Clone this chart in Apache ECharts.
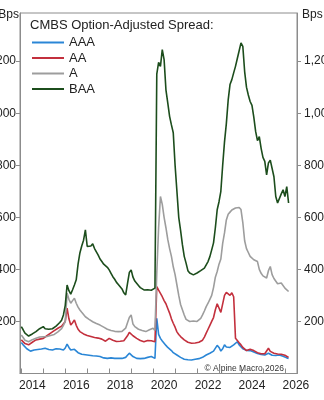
<!DOCTYPE html>
<html>
<head>
<meta charset="utf-8">
<script src="https://cdn.jsdelivr.net/npm/echarts@6/dist/echarts.min.js"></script>
<style>
html,body{margin:0;padding:0;background:#fff;}
#chart{width:324px;height:400px;}
</style>
</head>
<body>
<div id="chart"></div>
<script>
// ---- Data (monthly, Jan 2014 .. Mar 2026), bps ----
const startYear = 2014;
const endYear = 2026, endMonth = 3;
const seriesNames = ['AAA', 'AA', 'A', 'BAA'];
const titleText = 'CMBS Option-Adjusted Spread:';
const xTickLabels = ['2014', '2016', '2018', '2020', '2022', '2024', '2026'];
const yTickValues = [200, 400, 600, 800, 1000, 1200];

const baa = [
  180,168,155,148,144,146,152,158,161,165,172,178,
  180,172,168,170,166,172,178,182,188,196,205,225,
  262,340,318,305,322,340,360,420,463,490,512,552,
  488,495,490,498,480,475,455,440,430,420,415,408,
  398,385,372,362,350,342,335,325,310,302,345,388,
  398,370,355,348,338,330,325,321,318,322,318,320,
  324,328,1150,1195,1180,1244,1206,1090,1040,988,955,925,
  800,700,600,550,495,450,424,395,386,380,379,382,
  386,390,395,400,405,411,430,449,475,502,560,629,
  660,700,800,890,960,1050,1110,1129,1155,1180,1210,1240,
  1270,1257,1160,1100,1070,1045,1030,985,930,895,910,865,
  830,815,763,809,820,813,756,680,655,660,690,706,
  680,718,655
];
const singleA = [
  148,138,128,124,122,126,130,133,135,137,140,140,
  141,143,142,145,146,148,150,155,160,163,172,185,
  199,308,285,270,280,289,270,255,244,235,228,218,
  212,208,203,199,196,192,190,186,182,178,174,170,
  167,165,164,162,160,161,158,162,168,174,195,215,
  225,190,180,175,170,167,165,163,161,165,168,172,
  174,165,386,560,680,650,600,560,515,480,450,410,
  380,340,300,265,245,225,208,205,200,199,202,198,
  200,205,212,225,240,257,270,285,300,330,370,392,
  420,440,500,540,590,612,620,628,630,636,632,638,
  630,580,510,480,465,450,445,437,432,430,400,385,
  375,368,367,395,411,380,365,358,345,340,348,345,
  328,322,315
];
const aa = [
  129,122,115,112,110,114,120,125,129,130,132,134,
  135,140,145,150,155,161,165,170,174,178,182,186,
  200,251,210,186,195,206,185,170,161,156,152,148,
  146,144,142,140,138,137,136,135,132,128,124,130,
  135,132,128,125,123,122,124,122,126,130,145,158,
  161,145,138,135,130,127,125,122,124,127,129,126,
  129,122,334,320,315,295,280,268,250,232,210,193,
  178,160,150,142,135,129,125,120,118,116,118,117,
  118,120,122,128,140,155,170,185,200,215,245,268,
  262,235,240,300,312,315,300,310,295,135,129,118,
  110,100,95,88,90,93,90,88,84,80,78,76,
  75,76,80,97,85,80,78,76,75,73,74,71,
  70,66,62
];
const aaa = [
  119,110,103,95,90,86,84,90,93,92,93,94,
  95,97,94,92,90,90,93,95,97,94,91,90,
  98,113,100,90,92,93,88,80,76,74,71,72,
  72,70,69,68,68,67,66,65,63,60,57,58,
  58,60,59,58,57,58,59,58,60,62,70,78,
  76,65,60,58,58,57,58,58,60,62,64,65,
  65,58,212,150,135,125,120,108,100,95,88,80,
  75,71,66,62,58,55,54,53,52,52,54,55,
  56,57,58,62,66,71,74,78,82,86,92,108,
  100,86,95,110,102,100,100,104,110,116,122,110,
  103,95,90,89,88,88,86,83,80,77,75,73,
  72,71,74,78,74,70,67,69,70,71,69,66,
  65,60,58
];

// month positions as decimal years
const months = [];
for (let y = startYear; y <= endYear; y++) {
  for (let m = 1; m <= 12; m++) {
    if (y === endYear && m > endMonth) break;
    months.push(y + (m - 1) / 12);
  }
}
function pairs(vals) { return vals.map((v, i) => [months[i], v]); }

const yearTicks = [];
for (let y = startYear; y <= endYear; y++) yearTicks.push(y);
const labelPos = xTickLabels.map(s => +s + 0.5);

const colors = ['#2a86d6', '#c3303d', '#9d9d9d', '#1c4d1c'];
const valuesByName = { 'AAA': aaa, 'AA': aa, 'A': singleA, 'BAA': baa };

const font = 'Liberation Sans, Arial, sans-serif';
const axisColor = '#8c8c8c';
const textColor = '#222';
function fmt(v) { return String(v).replace(/\B(?=(\d{3})+(?!\d))/g, ','); }

function yAxisDef(pos) {
  const left = pos === 'left';
  return {
    type: 'value', position: pos, min: 0, max: 1385,
    axisLine: { show: true, lineStyle: { color: axisColor, width: 1 } },
    axisTick: { show: true, inside: false, length: 4, customValues: yTickValues, lineStyle: { color: axisColor } },
    axisLabel: { customValues: yTickValues, formatter: fmt, margin: left ? 4 : 7, fontSize: 12, color: textColor, fontFamily: font },
    splitLine: { show: false },
    name: 'Bps', nameLocation: 'end', nameGap: -2,
    nameTextStyle: {
      fontSize: 12, color: textColor, fontFamily: font,
      align: left ? 'right' : 'left', verticalAlign: 'middle',
      padding: left ? [0, 1, 0, 0] : [0, 0, 0, 5]
    }
  };
}

const chart = echarts.init(document.getElementById('chart'), null, { renderer: 'canvas' });
chart.setOption({
  animation: false,
  backgroundColor: '#fff',
  textStyle: { fontFamily: font },
  title: {
    text: titleText, left: 30, top: 19, padding: 0,
    textStyle: { fontSize: 13, fontWeight: 'normal', color: textColor, fontFamily: font }
  },
  legend: {
    orient: 'vertical', left: 32, top: 36, padding: 0,
    icon: 'rect', itemWidth: 32, itemHeight: 2, itemGap: 2.5,
    data: seriesNames,
    textStyle: { fontSize: 13, color: textColor, fontFamily: font }
  },
  grid: {
    left: 20, right: 27, top: 13, bottom: 26.5,
    containLabel: false, outerBoundsMode: 'none',
    show: true, borderColor: axisColor, borderWidth: 1, backgroundColor: 'transparent'
  },
  xAxis: {
    type: 'value', min: 2013.94, max: 2026.55,
    axisLine: { show: true, lineStyle: { color: axisColor } },
    axisTick: { show: true, inside: true, length: 5, customValues: yearTicks, lineStyle: { color: axisColor } },
    axisLabel: { customValues: labelPos, formatter: v => String(Math.floor(v)), margin: 6, fontSize: 12, color: textColor, fontFamily: font, hideOverlap: false, showMaxLabel: true },
    splitLine: { show: false }
  },
  yAxis: [yAxisDef('left'), yAxisDef('right')],
  graphic: [{
    type: 'text', x: 284, y: 368.5,
    style: { text: '© Alpine Macro 2026', font: '8.5px ' + font, fill: '#333', textAlign: 'right', textVerticalAlign: 'middle' }
  }],
  series: seriesNames.map((n, i) => ({
    name: n, type: 'line', yAxisIndex: 0,
    data: pairs(valuesByName[n]),
    symbol: 'none', showSymbol: false,
    lineStyle: { color: colors[i], width: 1.6 },
    itemStyle: { color: colors[i] },
    z: 2 + i
  }))
});
</script>
</body>
</html>
